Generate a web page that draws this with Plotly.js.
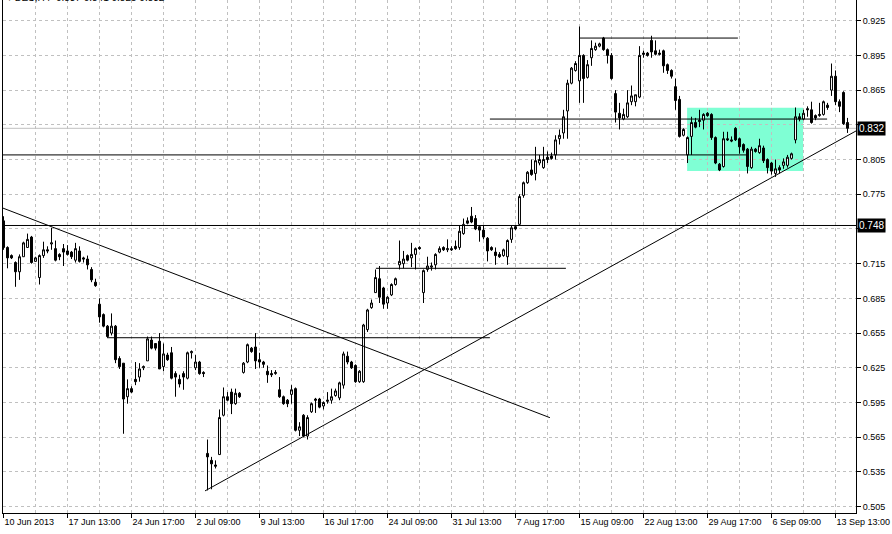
<!DOCTYPE html>
<html>
<head>
<meta charset="utf-8">
<script src="https://cdn.plot.ly/plotly-3.0.1.min.js"></script>
<style>html,body{margin:0;padding:0;background:#fff;}#chart{width:892px;height:534px;}</style>
</head>
<body>
<div id="chart"></div>
<script>
// ---- data (BES, H4) ----
const openP = [
.752,.729,.722,.716,.708,.721,.729,.738,.717,.703,.722,.727,.732,.728,.723,.728,.726,.725,.718,.726,
.720,.719,.710,.699,.680,.671,.661,.655,.661,.633,.629,.600,.607,.615,.617,.625,.631,.649,.646,.648,
.626,.636,.638,.620,.615,.620,.616,.638,.625,.630,.621,.551,.545,.541,.550,.584,.600,.604,.594,.603,
.621,.630,.642,.643,.632,.630,.622,.620,.620,.606,.600,.597,.602,.607,.571,.584,.566,.587,.598,.598,
.592,.596,.597,.601,.599,.610,.635,.630,.627,.613,.613,.658,.677,.690,.702,.694,.681,.688,.697,.714,
.715,.722,.720,.723,.729,.690,.710,.712,.714,.725,.729,.727,.728,.730,.729,.741,.752,.756,.754,.747,
.744,.737,.729,.725,.723,.722,.721,.736,.747,.749,.774,.785,.796,.793,.802,.798,.807,.808,.809,.823,
.828,.847,.871,.882,.873,.895,.876,.893,.900,.903,.910,.900,.895,.862,.845,.840,.842,.855,.855,.859,
.897,.897,.908,.899,.897,.899,.887,.882,.868,.857,.826,.809,.825,.837,.839,.839,.845,.844,.824,.801,
.799,.823,.822,.832,.823,.818,.814,.798,.814,.811,.815,.805,.802,.793,.798,.800,.800,.806,.822,.842,
.840,.849,.848,.843,.843,.844,.852,.865,.877,.855,.863,.837];
const highP = [
.756,.730,.723,.717,.723,.734,.741,.739,.721,.723,.734,.730,.746,.735,.724,.732,.731,.726,.733,.730,
.721,.722,.712,.702,.685,.672,.662,.672,.662,.635,.629,.615,.609,.630,.629,.627,.652,.652,.646,.655,
.646,.638,.643,.622,.619,.622,.639,.640,.636,.631,.622,.563,.548,.545,.589,.608,.604,.607,.607,.604,
.630,.646,.643,.655,.638,.631,.627,.623,.623,.617,.601,.598,.610,.608,.578,.585,.584,.595,.599,.599,
.596,.604,.607,.607,.613,.639,.639,.631,.628,.623,.663,.676,.684,.710,.713,.695,.687,.698,.703,.735,
.726,.723,.733,.729,.730,.710,.721,.716,.724,.730,.730,.736,.730,.735,.748,.754,.755,.764,.757,.748,
.748,.738,.730,.729,.725,.728,.736,.748,.748,.775,.786,.795,.805,.816,.809,.816,.812,.811,.826,.831,
.848,.874,.885,.890,.920,.896,.891,.908,.906,.906,.911,.901,.897,.865,.854,.849,.865,.869,.861,.903,
.899,.898,.912,.908,.900,.900,.888,.883,.875,.860,.832,.825,.842,.841,.848,.845,.846,.845,.825,.802,
.829,.829,.825,.833,.824,.819,.815,.816,.815,.823,.817,.806,.803,.805,.800,.806,.809,.811,.850,.845,
.848,.851,.855,.844,.854,.856,.854,.888,.882,.857,.864,.841];
const lowP = [
.727,.711,.719,.695,.701,.721,.729,.715,.717,.697,.720,.724,.727,.717,.718,.713,.722,.719,.716,.716,
.716,.710,.699,.695,.664,.660,.651,.653,.629,.624,.568,.594,.603,.610,.613,.623,.631,.641,.640,.624,
.622,.631,.615,.600,.608,.606,.615,.633,.623,.619,.617,.519,.520,.538,.550,.583,.596,.585,.593,.599,
.620,.629,.638,.624,.625,.625,.612,.617,.619,.599,.593,.591,.594,.570,.566,.565,.563,.586,.586,.590,
.589,.594,.594,.600,.597,.607,.628,.624,.612,.612,.612,.656,.676,.690,.681,.676,.676,.687,.696,.710,
.711,.717,.712,.710,.727,.681,.708,.709,.710,.724,.726,.725,.726,.727,.727,.740,.749,.750,.744,.734,
.736,.717,.726,.714,.720,.721,.714,.733,.744,.748,.772,.784,.791,.787,.800,.797,.802,.805,.805,.818,
.823,.823,.870,.881,.854,.854,.875,.886,.899,.902,.899,.888,.874,.837,.831,.839,.841,.852,.851,.858,
.893,.894,.893,.895,.895,.880,.879,.875,.848,.824,.825,.802,.809,.832,.833,.831,.842,.822,.801,.795,
.798,.821,.820,.821,.810,.811,.793,.797,.811,.810,.802,.793,.792,.790,.793,.797,.798,.805,.819,.838,
.839,.842,.836,.839,.842,.843,.848,.860,.852,.846,.835,.828];
const closeP = [
.729,.720,.720,.708,.721,.733,.736,.716,.720,.722,.727,.726,.733,.718,.721,.725,.723,.721,.728,.717,
.719,.714,.701,.696,.669,.661,.652,.661,.632,.626,.598,.607,.604,.613,.624,.626,.650,.642,.642,.624,
.637,.632,.616,.617,.611,.617,.638,.639,.630,.620,.620,.548,.542,.540,.582,.600,.597,.594,.603,.600,
.629,.645,.639,.631,.630,.628,.619,.619,.621,.600,.594,.594,.606,.571,.574,.566,.582,.594,.597,.591,
.595,.597,.600,.605,.612,.637,.630,.625,.613,.622,.662,.675,.681,.703,.686,.680,.686,.697,.702,.717,
.719,.718,.723,.728,.728,.709,.713,.713,.723,.728,.727,.728,.727,.728,.743,.749,.750,.751,.745,.744,
.738,.726,.727,.722,.721,.727,.735,.746,.745,.773,.785,.794,.792,.804,.805,.805,.805,.806,.822,.826,
.842,.871,.884,.888,.895,.875,.887,.901,.903,.905,.900,.895,.875,.846,.841,.844,.854,.860,.861,.895,
.896,.895,.898,.896,.896,.886,.882,.877,.856,.825,.831,.824,.837,.833,.838,.844,.843,.824,.802,.796,
.823,.822,.821,.822,.816,.813,.799,.814,.812,.817,.804,.798,.795,.797,.796,.803,.807,.810,.842,.840,
.845,.848,.837,.841,.844,.855,.850,.877,.855,.851,.836,.832];

// x tick labels every 16 bars, vertical grid every 8 bars
const tickLabels = ["10 Jun 2013","17 Jun 13:00","24 Jun 17:00","2 Jul 09:00","9 Jul 13:00",
  "16 Jul 17:00","24 Jul 09:00","31 Jul 13:00","7 Aug 17:00","15 Aug 09:00","22 Aug 13:00",
  "29 Aug 17:00","6 Sep 09:00","13 Sep 13:00"];
const barsPerLabel = 16;
const priceTicks = [0.505,0.535,0.565,0.595,0.625,0.655,0.685,0.715,0.745,0.775,0.805,0.835,0.865,0.895,0.925];

// drawn objects: horizontal levels [fromBar, toBar, price]
const hLevels = [
  [-2, 220, 0.748],
  [-2, 186, 0.809],
  [121.6, 205.9, 0.840],
  [143.9, 183.6, 0.910],
  [93.1, 140.6, 0.711],
  [25.9, 121.6, 0.651]
];
// trend lines [bar0, price0, bar1, price1]
const trendLines = [
  [-0.875, 0.7640, 136.6, 0.5819],
  [50.375, 0.5186, 213.125, 0.8297]
];
// rectangle [bar0, bar1, priceLow, priceHigh]
const zoneRect = [170.9, 199.9, 0.7952, 0.8498];
const bidPrice = 0.832;
const levelLabel = 0.748;
const titleText = "\u25BE BES,H4  0.837 0.841 0.828 0.832";

// ---- build ----
const n = closeP.length;
const xIdx = closeP.map((_, i) => i);
const tickVals = tickLabels.map((_, i) => i * barsPerLabel);
const gridVals = [];
for (let v = 0; v <= n; v += barsPerLabel / 2) gridVals.push(v);

const trace = {
  type: 'candlestick',
  x: xIdx, open: openP, high: highP, low: lowP, close: closeP,
  increasing: {line: {color: '#000', width: 1}, fillcolor: '#fff'},
  decreasing: {line: {color: '#000', width: 1}, fillcolor: '#000'},
  whiskerwidth: 0,
  hoverinfo: 'skip'
};

const shapes = [];
shapes.push({type: 'rect', xref: 'x', yref: 'y', x0: zoneRect[0], x1: zoneRect[1], y0: zoneRect[2], y1: zoneRect[3],
  fillcolor: 'rgb(127,255,212)', line: {width: 0}, layer: 'below'});
shapes.push({type: 'line', xref: 'paper', yref: 'y', x0: 0, x1: 1, y0: bidPrice, y1: bidPrice,
  line: {color: '#c0c0c0', width: 1}, layer: 'below'});
hLevels.forEach(h => shapes.push({type: 'line', xref: 'x', yref: 'y', x0: h[0], x1: h[1], y0: h[2], y1: h[2],
  line: {color: '#000', width: 1}}));
trendLines.forEach(t => shapes.push({type: 'line', xref: 'x', yref: 'y', x0: t[0], y0: t[1], x1: t[2], y1: t[3],
  line: {color: '#000', width: 1}}));

const annotations = [
  {xref: 'paper', yref: 'y', x: 1, xshift: 1, xanchor: 'left', y: bidPrice, yanchor: 'middle',
   text: bidPrice.toFixed(3), showarrow: false, bgcolor: '#000', borderpad: 1,
   font: {family: 'Liberation Sans, Arial, sans-serif', size: 10, color: '#fff'}},
  {xref: 'paper', yref: 'y', x: 1, xshift: 1, xanchor: 'left', y: levelLabel, yanchor: 'middle',
   text: levelLabel.toFixed(3), showarrow: false, bgcolor: '#000', borderpad: 1,
   font: {family: 'Liberation Sans, Arial, sans-serif', size: 10, color: '#fff'}},
  {xref: 'paper', yref: 'paper', x: 0, xshift: 2, xanchor: 'left', y: 1, yshift: -5, yanchor: 'bottom',
   text: titleText, showarrow: false,
   font: {family: 'Liberation Sans, Arial, sans-serif', size: 10, color: '#000'}}
];

const layout = {
  width: 892, height: 534,
  margin: {l: 3, r: 36, t: 0, b: 21, pad: 0},
  paper_bgcolor: '#fff', plot_bgcolor: '#fff',
  showlegend: false,
  font: {family: 'Liberation Sans, Arial, sans-serif', size: 9, color: '#000'},
  xaxis: {
    range: [-0.125, 213.125],
    tickmode: 'array', tickvals: tickVals, ticktext: tickLabels,
    ticks: 'outside', ticklen: 4, tickcolor: '#000', tickwidth: 1,
    ticklabelposition: 'outside right',
    showgrid: true, gridcolor: '#c0c0c0', griddash: '3px,3px', gridwidth: 1,
    minor: {tickmode: 'array', tickvals: gridVals, showgrid: true, gridcolor: '#c0c0c0', griddash: '3px,3px', ticks: ''},
    showline: true, linecolor: '#000', linewidth: 1,
    zeroline: false, rangeslider: {visible: false}, fixedrange: true
  },
  yaxis: {
    side: 'right',
    range: [0.4995, 0.9429],
    tickmode: 'array', tickvals: priceTicks, tickformat: '.3f',
    ticks: 'outside', ticklen: 4, tickcolor: '#000',
    showgrid: true, gridcolor: '#c0c0c0', griddash: '3px,3px', gridwidth: 1,
    showline: true, mirror: true, linecolor: '#000', linewidth: 1,
    zeroline: false, fixedrange: true
  },
  shapes: shapes,
  annotations: annotations
};

Plotly.newPlot('chart', [trace], layout, {staticPlot: true, displayModeBar: false});
</script>
</body>
</html>
